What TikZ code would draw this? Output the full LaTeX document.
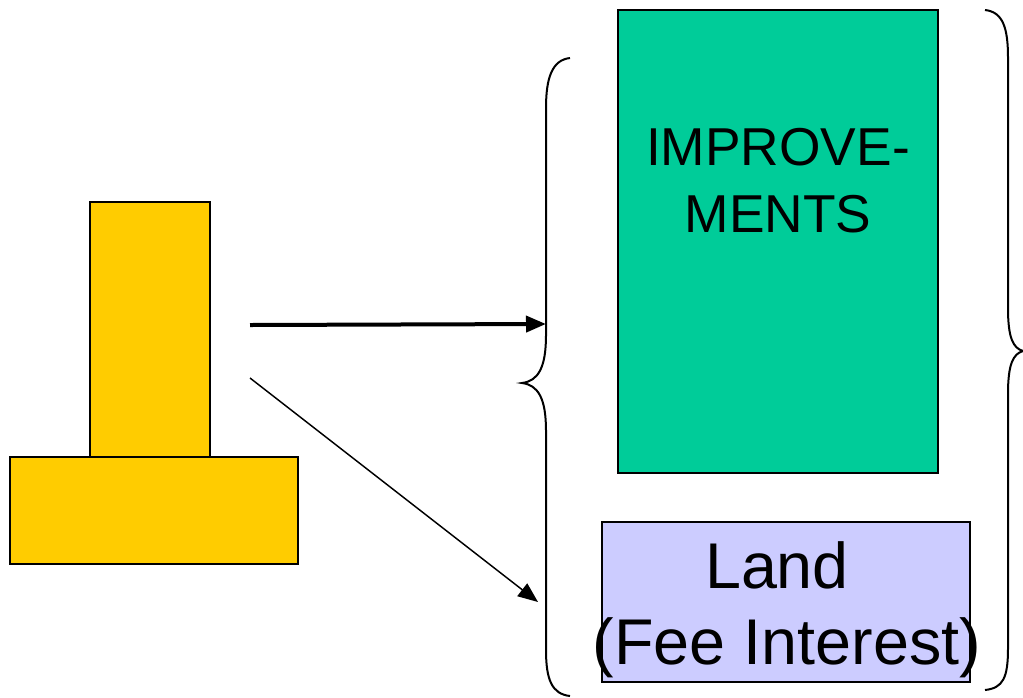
\documentclass[tikz,border=0pt]{standalone}
\usepackage{fontspec}
\setmainfont{Liberation Sans}
\usetikzlibrary{arrows.meta}
\definecolor{gold}{HTML}{FFCC00}
\definecolor{teal}{HTML}{00CC99}
\definecolor{lavender}{HTML}{CCCCFF}
\begin{document}
\begin{tikzpicture}[x=0.75pt,y=-0.75pt,
  block/.style={draw=black, line width=1.4pt, inner sep=0pt, outer sep=0pt},
  label/.style={anchor=base, inner sep=0pt, text=black},
  brace/.style={draw=black, line width=1.5pt},
  heavyarrow/.style={line width=3pt, -{Triangle[length=15pt,width=12pt]}},
  lightarrow/.style={line width=1.1pt, -{Triangle[length=15pt,width=12pt]}}]
\useasboundingbox (0,0) rectangle (1023,697);

% the T-shaped figure
\node[block, fill=gold, minimum width=90pt, minimum height=191.25pt] (post) at (150,329.5) {};
\node[block, fill=gold, minimum width=216pt, minimum height=80.25pt] (base) at (154,510.5) {};

% improvements and land boxes
\node[block, fill=teal, minimum width=240pt, minimum height=347.25pt] (impr) at (778,241.5) {};
\node[block, fill=lavender, minimum width=276pt, minimum height=120pt] (land) at (786,602) {};

\node[label, font=\fontsize{40}{48}\selectfont] (imp1) at (778,165) {IMPROVE-};
\node[label, font=\fontsize{40}{48}\selectfont] (imp2) at (778,232) {MENTS};
\node[label, font=\fontsize{48.5}{56}\selectfont] (land1) at (777,588) {Land};
\node[label, font=\fontsize{48.5}{56}\selectfont] (land2) at (787,664) {(Fee Interest)};

% left brace
\draw[brace] (570,58) .. controls (552,60) and (546,78) .. (546,108)
  -- (546,335) .. controls (546,368) and (538,381) .. (522,383)
  .. controls (538,385) and (546,398) .. (546,431)
  -- (546,650) .. controls (546,680) and (552,694) .. (570,696);
\coordinate (lb1) at (546,324);
\coordinate (lb2) at (538,602);

% right brace
\draw[brace] (985,10) .. controls (1003,12) and (1008,28) .. (1008,58)
  -- (1008,308) .. controls (1008,338) and (1013,348) .. (1023,351)
  .. controls (1013,354) and (1008,364) .. (1008,394)
  -- (1008,648) .. controls (1008,678) and (1003,688) .. (985,690);

% arrows from the figure to the brace
\coordinate (src1) at (250,325);
\coordinate (src2) at (250,378);
\draw[heavyarrow] (src1) -- (lb1);
\draw[lightarrow] (src2) -- (lb2);
\end{tikzpicture}
\end{document}
